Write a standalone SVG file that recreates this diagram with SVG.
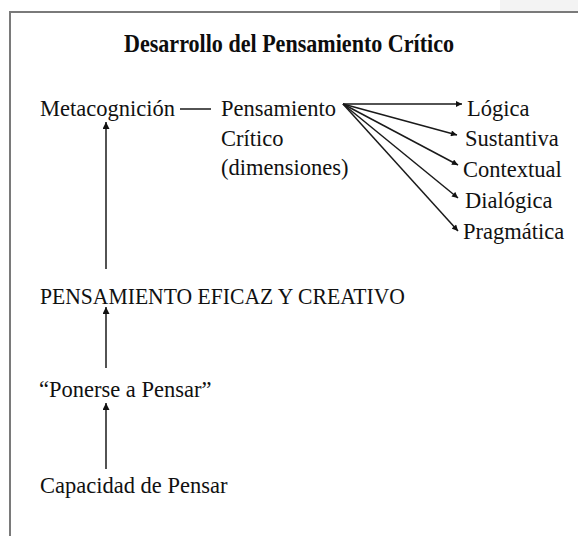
<svg xmlns="http://www.w3.org/2000/svg" width="578" height="536" viewBox="0 0 578 536">
<defs>
<style>
.t{font-family:"Liberation Serif","Times New Roman",serif;font-size:22.5px;fill:#111}
.title{font-family:"Liberation Serif","Times New Roman",serif;font-size:26px;font-weight:bold;fill:#0d0d0d}
.c{stroke:#1a1a1a;stroke-width:1.5;fill:none}
.frame{stroke:#7a7a7a;stroke-width:2;fill:none}
</style>
<marker id="ah" viewBox="0 0 10 10" refX="10" refY="5" markerWidth="7" markerHeight="6" markerUnits="userSpaceOnUse" orient="auto">
<path d="M0,0 L10,5 L0,10 z" fill="#111"/>
</marker>
<marker id="av" viewBox="0 0 10 10" refX="10" refY="5" markerWidth="9" markerHeight="7" markerUnits="userSpaceOnUse" orient="auto">
<path d="M0,0 L10,5 L0,10 z" fill="#111"/>
</marker>
</defs>
<rect width="578" height="536" fill="#fff"/>
<rect x="500" y="0" width="78" height="11" fill="#f3f3f3"/>
<path class="frame" d="M10,536 L10,12 L578,12"/>
<g id="title"><text class="title" x="124" y="52" textLength="330" lengthAdjust="spacingAndGlyphs">Desarrollo del Pensamiento Crítico</text></g>
<g id="metacognicion"><text class="t" x="40" y="116">Metacognición</text></g>
<g id="pensamiento-critico"><text class="t" x="221" y="116">Pensamiento</text><text class="t" x="221" y="146">Crítico</text><text class="t" x="221" y="175">(dimensiones)</text></g>
<g id="logica"><text class="t" x="467" y="116">Lógica</text></g>
<g id="sustantiva"><text class="t" x="465" y="146">Sustantiva</text></g>
<g id="contextual"><text class="t" x="463" y="177">Contextual</text></g>
<g id="dialogica"><text class="t" x="465" y="208">Dialógica</text></g>
<g id="pragmatica"><text class="t" x="463" y="239">Pragmática</text></g>
<g id="pensamiento-eficaz"><text class="t" x="40" y="304" textLength="365" lengthAdjust="spacingAndGlyphs">PENSAMIENTO EFICAZ Y CREATIVO</text></g>
<g id="ponerse"><text class="t" x="39" y="397">“Ponerse a Pensar”</text></g>
<g id="capacidad"><text class="t" x="40" y="493">Capacidad de Pensar</text></g>
<g id="connectors">
<line class="c" x1="180" y1="109" x2="211" y2="109"/>
<line class="c" x1="343" y1="104" x2="462" y2="104" marker-end="url(#ah)"/>
<line class="c" x1="343" y1="104" x2="457" y2="135" marker-end="url(#ah)"/>
<line class="c" x1="343" y1="104" x2="458" y2="165" marker-end="url(#ah)"/>
<line class="c" x1="343" y1="104" x2="458" y2="198" marker-end="url(#ah)"/>
<line class="c" x1="343" y1="104" x2="458" y2="231" marker-end="url(#ah)"/>
<line class="c" x1="106" y1="269" x2="106" y2="122" marker-end="url(#av)"/>
<line class="c" x1="106" y1="368" x2="106" y2="307" marker-end="url(#av)"/>
<line class="c" x1="106" y1="469" x2="106" y2="403" marker-end="url(#av)"/>
</g>
</svg>
